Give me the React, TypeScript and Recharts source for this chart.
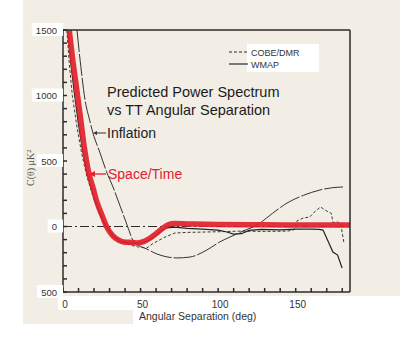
import React from 'react'
import { LineChart, Line, XAxis, YAxis, ReferenceLine, Legend } from 'recharts'

// angle (deg), C(theta) in uK^2
const spaceTimePts = [
  [4, 1500], [6, 1300], [8.7, 1060], [11.5, 810], [13.8, 600], [16.8, 400], [19.5, 290], [21.5, 200],
  [25, 90], [28.5, -10], [32, -70], [36, -105], [40, -120], [45, -122], [48, -125], [52, -115],
  [56, -90], [60, -55], [64, -15], [68, 15], [72, 22], [80, 20], [100, 16], [130, 13], [160, 12], [185, 12],
]
const inflationPts = [
  [9, 1500], [11.5, 1220], [14.2, 966], [17, 820], [19.3, 714], [23.9, 561], [28, 420], [32.2, 302],
  [37, 150], [41.3, 11], [45, -103], [49, -145], [54, -172], [60.6, -210], [67, -232], [73.5, -240],
  [81.9, -233], [92.8, -179], [101, -118], [107.7, -80], [116, -35], [125, 11], [135, 100],
  [144.4, 179], [155, 238], [165.7, 279], [173, 295], [180.5, 302],
]
const cobePts = [
  [2.5, 1500], [4, 1250], [6, 1000], [9, 760], [12, 560], [15, 400], [19, 240], [23, 110], [27, 10],
  [33, -88], [40, -120], [43, -141], [48, -155], [54, -164], [58, -130], [65, -85], [72, -50],
  [80, -45], [100, -40], [115, -35], [130, -38], [145, -35], [149, -25], [151, 45], [155, 65],
  [159, 72], [162, 110], [166, 149], [171, 111], [173, 100], [174, 30], [177, 35], [179, 20], [181, -118],
]
const wmapPts = [
  [3, 1500], [5, 1250], [7.5, 1000], [10, 780], [12.5, 590], [15.5, 410], [19, 260], [23, 120],
  [27, 15], [32, -70], [37, -115], [42, -125], [47, -128], [52, -122], [57, -95], [62, -45],
  [67, -10], [72, -5], [80, -15], [90, -20], [100, -28], [105, -40], [110, -58], [115, -55],
  [120, -30], [128, -22], [140, -25], [150, -20], [160, -20], [165, -22], [167.6, -27], [170, -90],
  [174, -195], [177, -218], [179.9, -317],
]

const xTicks = [0, 10, 20, 30, 40, 50, 60, 70, 80, 90, 100, 110, 120, 130, 140, 150, 160, 170, 180]
const xLabels = [0, 50, 100, 150]
const yTicks = [-500, -400, -300, -200, -100, 0, 100, 200, 300, 400, 500, 600, 700, 800, 900, 1000, 1100, 1200, 1300, 1400, 1500]
const yLabels = [-500, 0, 500, 1000, 1500]

const toPts = (a: number[][]) => a.map(([deg, c]) => ({ deg, c }))

const PAPER = '#f2eee5'
const INK = '#2b2b2b'
const RED = '#e3202c'
const FONT = '"Liberation Sans", Arial, sans-serif'

const legendStyles: Record<string, string | undefined> = {
  'COBE/DMR': '3 2',
  WMAP: undefined,
}

const BottomTick = (props: any) => {
  const { x, payload } = props
  if (!xLabels.includes(payload.value)) return <g />
  return (
    <text x={x + 2} y={308} textAnchor="middle" fontSize={10} fontFamily={FONT} fill="#333">
      {payload.value}
    </text>
  )
}

const LeftTick = (props: any) => {
  const { y, payload } = props
  if (!yLabels.includes(payload.value)) return <g />
  const label = String(Math.abs(payload.value))
  const w = label.length * 5.3 + 8
  return (
    <g>
      <rect x={58 - w + 3} y={y - 7} width={w + 2} height={13} fill="#fff" />
      <text x={57} y={y + 3.5} textAnchor="end" fontSize={9.5} fontFamily={FONT} fill="#333">
        {label}
      </text>
    </g>
  )
}

const LegendBox = (props: any) => {
  const items = (props.payload || []).filter((p: any) => p.value in legendStyles)
  return (
    <svg width={96} height={30}>
      <rect x={21} y={1} width={72} height={28} fill="#fff" />
      {items.map((p: any, i: number) => (
        <g key={p.value}>
          <line x1={3} x2={22} y1={9 + i * 12} y2={9 + i * 12} stroke={INK} strokeWidth={1.2}
            strokeDasharray={legendStyles[p.value]} />
          <text x={25} y={12.5 + i * 12} fontSize={9} fontFamily={FONT} fill="#333">{p.value}</text>
        </g>
      ))}
    </svg>
  )
}

const axisCommon = {
  type: 'number' as const,
  stroke: INK,
  strokeWidth: 1.5,
  allowDataOverflow: true,
  interval: 0 as const,
  mirror: true,
  tickSize: 4,
}

export default function App() {
  return (
    <div style={{ position: 'absolute', left: 0, top: 0, width: 400, height: 344, background: '#fff', overflow: 'hidden' }}>
      <div style={{ position: 'absolute', left: 23, top: 0, width: 377, height: 296, background: PAPER }} />
      <div style={{ position: 'absolute', left: 23, top: 296, width: 35, height: 28, background: PAPER }} />
      <div style={{ position: 'absolute', left: 58, top: 310, width: 75, height: 14, background: PAPER }} />
      <div style={{ position: 'absolute', left: 0, top: 0 }}>
        <LineChart width={400} height={344} margin={{ top: 30, right: 50, bottom: 52, left: 63 }}>
          <XAxis {...axisCommon} xAxisId="b" dataKey="deg" orientation="bottom" domain={[0, 185]}
            ticks={xTicks} tick={<BottomTick />} />
          <XAxis {...axisCommon} xAxisId="t" dataKey="deg" orientation="top" domain={[0, 185]}
            ticks={xTicks} tick={false} />
          <YAxis {...axisCommon} yAxisId="l" dataKey="c" orientation="left" domain={[-500, 1500]}
            ticks={yTicks} tick={<LeftTick />} />
          <YAxis {...axisCommon} yAxisId="r" dataKey="c" orientation="right" domain={[-500, 1500]}
            ticks={yTicks} tick={false} />
          <ReferenceLine xAxisId="b" yAxisId="l" y={0} stroke={INK} strokeWidth={1.2} strokeDasharray="9 3 2 3" />
          <Line xAxisId="b" yAxisId="l" data={toPts(cobePts)} dataKey="c" name="COBE/DMR" type="linear"
            stroke="#3a3a3a" strokeWidth={1} strokeDasharray="3 2" dot={false} isAnimationActive={false} />
          <Line xAxisId="b" yAxisId="l" data={toPts(wmapPts)} dataKey="c" name="WMAP" type="linear"
            stroke="#222" strokeWidth={1.2} dot={false} isAnimationActive={false} />
          <Line xAxisId="b" yAxisId="l" data={toPts(inflationPts)} dataKey="c" name="Inflation" type="monotone"
            stroke="#333" strokeWidth={1} strokeDasharray="22 2" dot={false} legendType="none" isAnimationActive={false} />
          <Line xAxisId="b" yAxisId="l" data={toPts(spaceTimePts)} dataKey="c" name="Space/Time" type="monotone"
            stroke={RED} strokeOpacity={0.92} strokeWidth={5.5} dot={false} legendType="none" isAnimationActive={false} />
          <Legend layout="vertical" align="center" verticalAlign="middle" content={<LegendBox />}
            wrapperStyle={{ position: 'absolute', left: 226, top: 43, width: 96, height: 30 }} />
        </LineChart>
      </div>
      <svg width={400} height={344} style={{ position: 'absolute', left: 0, top: 0, pointerEvents: 'none' }}>
        <text x={107} y={97} fontSize={14.5} fontFamily={FONT} fill="#1c1c1c">Predicted Power Spectrum</text>
        <text x={107} y={115} fontSize={14.5} fontFamily={FONT} fill="#1c1c1c">vs TT Angular Separation</text>
        <text x={107} y={138} fontSize={14} fontFamily={FONT} fill="#1c1c1c">Inflation</text>
        <line x1={96} x2={106} y1={133} y2={133} stroke="#333" strokeWidth={1} />
        <path d="M93,133 L97,131 L97,135 Z" fill="#333" />
        <text x={108} y={179} fontSize={14} fontFamily={FONT} fill={RED}>Space/Time</text>
        <line x1={93} x2={106} y1={174} y2={174} stroke={RED} strokeWidth={1.3} />
        <path d="M89,174 L95,171 L95,177 Z" fill={RED} />
        <text transform="translate(34,186) rotate(-90)" fontSize={10} fontFamily='"Liberation Serif", serif' fill="#555">
          C(θ) μK²
        </text>
        <text x={139} y={320} fontSize={10.5} fontFamily={FONT} fill="#333">Angular Separation (deg)</text>
      </svg>
    </div>
  )
}
